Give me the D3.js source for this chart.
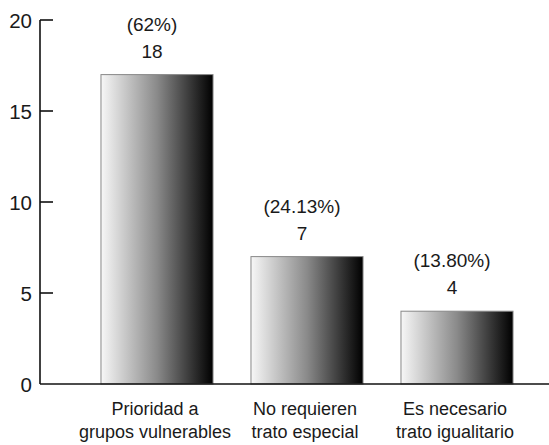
<!DOCTYPE html>
<html><head><meta charset="utf-8">
<script src="https://cdn.jsdelivr.net/npm/d3@7"></script>
<style>body{margin:0;background:#fff}svg{display:block}text{font-family:"Liberation Sans",Arial,sans-serif;fill:#1a1a1a}</style>
</head><body>
<script>
const categories = [["Prioridad a","grupos vulnerables"],["No requieren","trato especial"],["Es necesario","trato igualitario"]];
const values = [17, 7, 4];
const valueLabels = ["18", "7", "4"];
const pctLabels = ["(62%)", "(24.13%)", "(13.80%)"];
const yTicks = [0, 5, 10, 15, 20];

const W = 549, H = 445;
const svg = d3.select("body").append("svg").attr("width", W).attr("height", H);
const defs = svg.append("defs");
const grad = defs.append("linearGradient").attr("id","g").attr("x1","0").attr("x2","1").attr("y1","0").attr("y2","0");
grad.append("stop").attr("offset","0").attr("stop-color","#f7f7f7");
grad.append("stop").attr("offset","0.5").attr("stop-color","#8a8a8a");
grad.append("stop").attr("offset","1").attr("stop-color","#000");

const x = d3.scaleBand().domain(d3.range(categories.length)).range([82, 532]).paddingInner(0.253).paddingOuter(0.1265);
const y = d3.scaleLinear().domain([0, 20]).range([384, 20]);

// y axis
const yAxis = d3.axisLeft(y).tickValues(yTicks).tickSize(0).tickPadding(8);
const ga = svg.append("g").attr("transform","translate(40,0)").call(yAxis);
ga.select(".domain").remove();
ga.selectAll("text").style("font-size","20.5px").attr("dy","0.36em").attr("fill","#1a1a1a");
svg.append("line").attr("x1",40).attr("x2",40).attr("y1",y(20)).attr("y2",y(0)).attr("stroke","#111").attr("stroke-width",1.6);
svg.selectAll(".tk").data(yTicks.filter(d=>d>0)).enter().append("line")
  .attr("x1",40).attr("x2",53).attr("y1",d=>y(d)).attr("y2",d=>y(d)).attr("stroke","#111").attr("stroke-width",1.6);

// bars
svg.selectAll(".bar").data(values).enter().append("rect")
  .attr("x",(d,i)=>x(i)).attr("width",x.bandwidth())
  .attr("y",d=>y(d)).attr("height",d=>y(0)-y(d))
  .attr("fill","url(#g)").attr("stroke","#888").attr("stroke-width",1);

// baseline
svg.append("line").attr("x1",40).attr("x2",W).attr("y1",y(0)).attr("y2",y(0)).attr("stroke","#111").attr("stroke-width",1.6);

// value labels
svg.selectAll(".vl").data(values).enter().append("text")
  .attr("x",(d,i)=>x(i)+x.bandwidth()/2-5).attr("y",d=>y(d)-17)
  .attr("text-anchor","middle").style("font-size","19px").text((d,i)=>valueLabels[i]);
svg.selectAll(".pl").data(values).enter().append("text")
  .attr("x",(d,i)=>x(i)+x.bandwidth()/2-5).attr("y",d=>y(d)-44)
  .attr("text-anchor","middle").style("font-size","19px").text((d,i)=>pctLabels[i]);

// category labels
const cl = svg.selectAll(".cl").data(categories).enter().append("text")
  .attr("text-anchor","middle").style("font-size","18px");
cl.each(function(d,i){
  const t = d3.select(this);
  d.forEach((line,j)=>{
    t.append("tspan").attr("x",x(i)+x.bandwidth()/2-2).attr("y",415+j*23).text(line);
  });
});
</script>
</body></html>
